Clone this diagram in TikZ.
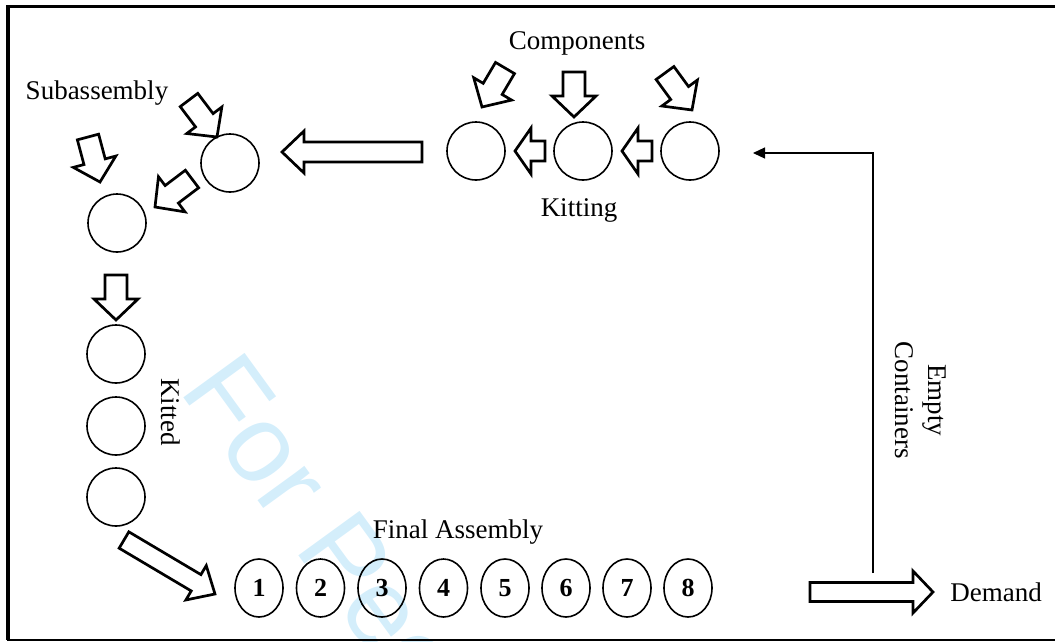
\documentclass[tikz,border=0pt]{standalone}
\usepackage{fontspec}
\setmainfont{Liberation Serif}
\newfontfamily\wmfont{Liberation Sans}
\usetikzlibrary{calc,arrows.meta,shapes.geometric}

\definecolor{wmblue}{RGB}{212,238,251}

\tikzset{
  x=1pt, y=-1pt,
  station/.style={circle, draw, line width=1.6pt, minimum size=58pt, inner sep=0pt},
  slot/.style={ellipse, draw, line width=1.6pt, minimum width=48pt, minimum height=58pt,
    inner sep=0pt, font=\fontsize{26}{30}\selectfont\bfseries},
  lbl/.style={font=\fontsize{27}{33}\selectfont, inner sep=0pt, align=center},
  blk/.style={draw, line width=2.7pt, line join=miter, fill=white},
  % outline block arrow along +x: length / head length / shaft half width / head half width
  pics/blockarrow/.style args={#1/#2/#3/#4}{code={
    \path[blk] (0,#3) -- ({#1-#2},#3) -- ({#1-#2},#4) -- (#1,0)
      -- ({#1-#2},-#4) -- ({#1-#2},-#3) -- (0,-#3) -- cycle;}},
  flowline/.style={line width=1.2pt, -{Triangle[length=12pt,width=11pt]}},
}

% block arrow from a tail coordinate to a tip coordinate
\newcommand\flow[3]{%
  \path let \p1=(#1), \p2=(#2),
    \n1={atan2(\y2-\y1,\x2-\x1)}, \n2={veclen(\x2-\x1,\y2-\y1)} in
    \pgfextra{\xdef\flowang{\n1}\xdef\flowlen{\n2}};
  \pic[rotate=\flowang] at (#1) {blockarrow={\flowlen/#3}};
}

\begin{document}
\begin{tikzpicture}
\useasboundingbox (0,0) rectangle (1055,641);

% watermark
\begin{scope}
  \clip (0,0) rectangle (1055,641);
  \node[rotate=-54, anchor=base west, inner sep=0pt, text=wmblue,
    font=\wmfont\fontsize{110}{120}\selectfont] (wm) at (178,390) {For Peer Review};
\end{scope}

% frame
\draw[line width=3.3pt] (8,6.7) -- (1055,6.7);
\draw[line width=3.5pt] (8.2,5) -- (8.2,640);
\draw[line width=2pt] (6.5,639.5) -- (1055,639.5);

% kitting stations
\node[station] (kt1) at (476,151) {};
\node[station] (kt2) at (583,151) {};
\node[station] (kt3) at (690,151) {};

% subassembly stations
\node[station] (sa) at (230,163) {};
\node[station] (sb) at (117,223) {};

% kitted buffer
\node[station] (kd1) at (116,354) {};
\node[station] (kd2) at (116,426) {};
\node[station] (kd3) at (116,497) {};

% final assembly line
\foreach \i/\x in {1/259,2/320.5,3/382,4/443.5,5/505,6/566,7/627,8/688}
  \node[slot] (f\i) at (\x,588) {\i};

% labels
\node[lbl] (lcomp) at (577,43.5) {Components};
\node[lbl] (lsub) at (97,93) {Subassembly};
\node[lbl] (lkit) at (579,210) {Kitting};
\node[lbl, rotate=-90] (lkitted) at (171,412) {Kitted};
\node[lbl] (lfinal) at (458,532) {Final Assembly};
\node[lbl, rotate=-90] (lempty) at (921,400) {Empty\\Containers};
\node[lbl] (ldem) at (996,592.5) {Demand};

% arrow end points
\coordinate (c1t) at (505,68);   \coordinate (c1h) at (482,107);
\coordinate (c2t) at (574,72);   \coordinate (c2h) at (574,117);
\coordinate (c3t) at (665,73);   \coordinate (c3h) at (692,110);
\coordinate (s1t) at (189,100);  \coordinate (s1h) at (217,137);
\coordinate (s2t) at (88,137);   \coordinate (s2h) at (100,182);
\coordinate (s3t) at (192,179);  \coordinate (s3h) at (155,207);
\coordinate (kdt) at (116,275);  \coordinate (kdh) at (116,320);
\coordinate (k2t) at (545,151);  \coordinate (k2h) at (515,151);
\coordinate (k3t) at (652,151);  \coordinate (k3h) at (622,151);
\coordinate (kst) at (422,152);  \coordinate (ksh) at (282,152);
\coordinate (fat) at (124,540);  \coordinate (fah) at (215,594);
\coordinate (dmt) at (810,592);  \coordinate (dmh) at (933,592);
\coordinate (ect) at (873,573);  \coordinate (ech) at (753,153);

% components into kitting
\flow{c1t}{c1h}{21/11/22}
\flow{c2t}{c2h}{21/11/22}
\flow{c3t}{c3h}{21/11/22}
% kitting flow
\flow{k3t}{k3h}{16/10/23}
\flow{k2t}{k2h}{16/10/23}
\flow{kst}{ksh}{22/10/21}
% subassembly
\flow{s1t}{s1h}{21/11/22}
\flow{s2t}{s2h}{21/11/22}
\flow{s3t}{s3h}{21/11/22}
% kitted and final assembly
\flow{kdt}{kdh}{21/11/22}
\flow{fat}{fah}{22/9.5/20}
\flow{dmt}{dmh}{20/9.5/21}

% empty containers return
\draw[flowline] (ect) |- (ech);
\end{tikzpicture}
\end{document}
